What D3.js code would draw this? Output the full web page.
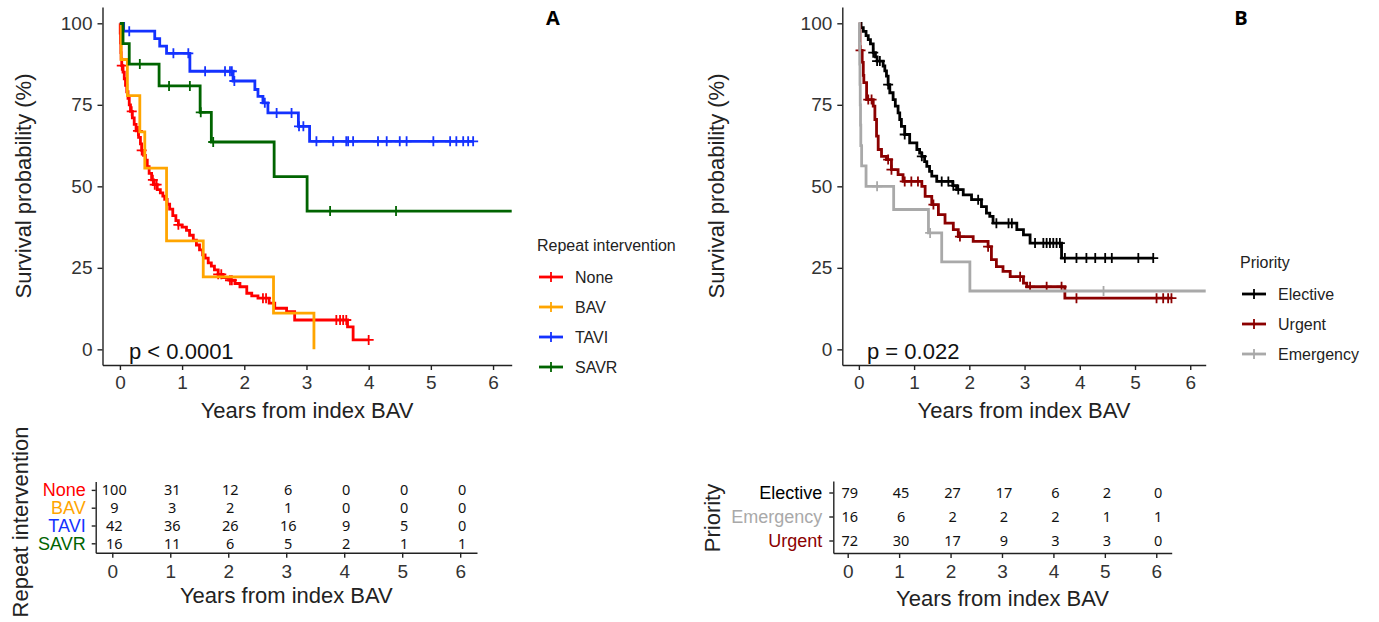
<!DOCTYPE html>
<html>
<head>
<meta charset="utf-8">
<script src="https://cdn.jsdelivr.net/npm/d3@7"></script>
<style>
  body { margin: 0; background: #fff; }
  svg { display: block; }
  text { font-family: "Liberation Sans", Arial, sans-serif; }
</style>
</head>
<body>
<div id="chart"></div>
<script>
// ---- 数据 ----
const yearTicks = [0, 1, 2, 3, 4, 5, 6];
const survTicks = [0, 25, 50, 75, 100];

// A: Repeat intervention
const groupsA = ["None", "BAV", "TAVI", "SAVR"];
const colorsA = ["#ff0000", "#ffa500", "#1432ff", "#006400"];

const noneSteps = [[0,100],[0.005,97],[0.01,94],[0.015,91],[0.02,89],[0.03,87],[0.05,85],[0.07,83],[0.09,81],
  [0.11,79],[0.13,77],[0.15,75],[0.17,73],[0.20,71],[0.23,69],[0.26,67],[0.30,65],[0.33,63],[0.35,61],
  [0.38,59.5],[0.41,58],[0.44,56],[0.47,54],[0.51,52],[0.54,50.5],[0.60,49],[0.65,48],[0.69,47],[0.72,46],
  [0.76,44.5],[0.80,43],[0.85,41],[0.90,39.5],[0.94,38.2],[1.00,37.5],[1.07,36.5],[1.12,35],[1.18,33.5],
  [1.23,32],[1.28,30.5],[1.33,29],[1.37,28],[1.42,26.5],[1.47,25.5],[1.52,24.4],[1.58,23],[1.66,22],
  [1.77,21.2],[1.85,20.2],[1.93,19.2],[2.04,17.2],[2.12,16.4],[2.22,15.7],[2.40,14.2],[2.49,12.6],
  [2.68,11.6],[2.81,9.0],[3.66,6.9],[3.75,2.9],[4.00,2.9]];
const noneCensor = [0.03, 0.19, 0.29, 0.35, 0.53, 0.56, 0.59, 0.94, 1.58, 1.63, 1.77, 1.80, 2.30, 2.35,
  3.48, 3.54, 3.59, 3.64, 4.00];

const bavSteps = [[0,100],[0.02,88.9],[0.12,77.8],[0.32,66.7],[0.40,55.6],[0.75,33.3],[1.34,22.2],
  [2.47,11.1],[3.12,0]];
const bavCensor = [];

const taviSteps = [[0,100],[0.06,97.6],[0.56,95.3],[0.64,93.0],[0.75,90.8],[1.125,85.3],[1.82,82.3],
  [2.17,79.7],[2.22,77.6],[2.30,75.6],[2.38,72.5],[2.87,68.4],[3.05,63.8],[5.68,63.8]];
const taviCensor = [0.15, 0.86, 1.10, 1.37, 1.69, 1.77, 1.80, 1.84, 2.33, 2.52, 2.76, 2.88, 2.95,
  3.16, 3.43, 3.64, 3.67, 3.75, 4.15, 4.29, 4.50, 4.61, 5.04, 5.31, 5.41, 5.52, 5.60, 5.68];

const savrSteps = [[0,100],[0.05,93.75],[0.15,87.5],[0.63,80.8],[1.29,72.7],[1.47,63.6],[2.48,53.0],
  [3.01,42.4],[6.3,42.4]];
const savrCensor = [0.32, 0.79, 1.125, 1.30, 1.50, 3.38, 4.44];

const stepsA = [noneSteps, bavSteps, taviSteps, savrSteps];
const censorA = [noneCensor, bavCensor, taviCensor, savrCensor];

const riskA = [
  [100, 31, 12, 6, 0, 0, 0],
  [9, 3, 2, 1, 0, 0, 0],
  [42, 36, 26, 16, 9, 5, 0],
  [16, 11, 6, 5, 2, 1, 1]
];

// B: Priority
const groupsB = ["Elective", "Urgent", "Emergency"];
const colorsB = ["#000000", "#8b0000", "#a9a9a9"];

const electiveSteps = [[0,100],[0.04,98.7],[0.08,97.5],[0.13,96.2],[0.17,95],[0.21,93.7],[0.26,91],
  [0.30,89.7],[0.33,88.4],[0.44,86.9],[0.47,85.4],[0.50,83.8],[0.53,81.2],[0.56,78.7],[0.62,76.6],
  [0.66,74.6],[0.71,72.5],[0.74,70.5],[0.77,68.4],[0.83,65.9],[0.92,63.3],[1.05,61.3],[1.10,60.2],
  [1.14,59.2],[1.19,57.6],[1.23,56.1],[1.28,54.6],[1.32,53.1],[1.41,51.5],[1.70,50.2],[1.77,49],
  [1.89,47.4],[2.04,45.9],[2.22,43.8],[2.31,41.8],[2.37,40.8],[2.43,38.7],[2.86,36.7],[2.98,35.1],
  [3.10,32.6],[3.67,28.0],[5.33,28.0]];
const electiveCensor = [0.26, 0.33, 0.38, 0.53, 0.83, 1.14, 1.50, 1.62, 1.71, 1.80, 2.16, 2.49, 2.71,
  2.77, 3.19, 3.34, 3.40, 3.46, 3.52, 3.58, 3.64, 3.73, 3.94, 4.12, 4.28, 4.46, 4.58, 5.06, 5.33];

const urgentSteps = [[0,100],[0.02,91.7],[0.06,88],[0.08,84],[0.09,81.8],[0.14,76.6],[0.26,74.6],
  [0.29,70.5],[0.32,65.4],[0.35,61.3],[0.41,59.2],[0.50,58.2],[0.59,55.1],[0.71,53.6],[0.80,51.5],
  [1.14,50.0],[1.20,46.9],[1.32,44.4],[1.44,41.3],[1.56,38.7],[1.71,36.7],[1.80,34.6],[2.07,33.1],
  [2.34,31.5],[2.40,27.5],[2.49,25.4],[2.61,23.9],[2.74,22.3],[2.98,20.3],[3.04,19.2],[3.73,15.7],
  [5.66,15.7]];
const urgentCensor = [0.03, 0.17, 0.23, 0.53, 0.59, 0.83, 0.95, 1.07, 1.35, 1.83, 2.34, 2.92, 3.10,
  3.40, 3.67, 3.94, 5.39, 5.51, 5.60, 5.66];

const emergencySteps = [[0,100],[0.01,93.75],[0.015,87.5],[0.02,81.25],[0.025,75],[0.03,68.75],
  [0.035,62.5],[0.05,56.25],[0.13,50],[0.63,42.9],[1.26,35.7],[1.50,26.8],[2.01,17.9],[6.28,17.9]];
const emergencyCensor = [0.33, 1.29, 4.43];

const stepsB = [electiveSteps, urgentSteps, emergencySteps];
const censorB = [electiveCensor, urgentCensor, emergencyCensor];

// 风险表（行顺序与图中一致）
const riskGroupsB = ["Elective", "Emergency", "Urgent"];
const riskColorsB = ["#000000", "#a9a9a9", "#8b0000"];
const riskB = [
  [79, 45, 27, 17, 6, 2, 0],
  [16, 6, 2, 2, 2, 1, 1],
  [72, 30, 17, 9, 3, 3, 0]
];

// ---- 画布 ----
const width = 1379, height = 622;
const svg = d3.select("#chart").append("svg")
  .attr("width", width)
  .attr("height", height);

const axisColor = "#222";
const tickText = "#333";
const intFmt = d3.format("d");

function styleAxis(sel, fontSize) {
  sel.select(".domain").attr("stroke", axisColor).attr("stroke-width", 1.4);
  sel.selectAll(".tick line").attr("stroke", axisColor).attr("stroke-width", 1.4);
  sel.selectAll(".tick text")
    .attr("fill", tickText)
    .style("font-family", '"Liberation Sans", Arial, sans-serif')
    .style("font-size", fontSize + "px");
}

const bisect = d3.bisector(d => d[0]).right;
function survAt(steps, t) {
  return steps[Math.max(0, bisect(steps, t) - 1)][1];
}

const crossPath = "M-5,0H5M0,-5V5";

// 生存曲线面板
function kmPanel(cfg) {
  const x = d3.scaleLinear().domain(cfg.xDomain).range(cfg.xRange);
  const y = d3.scaleLinear().domain([-4.8, 105]).range([365, 7]);
  const g = svg.append("g");

  g.append("g")
    .attr("transform", "translate(0,365)")
    .call(d3.axisBottom(x).tickValues(yearTicks).tickFormat(intFmt)
      .tickSize(5).tickSizeOuter(0).tickPadding(6))
    .call(s => styleAxis(s, 19));

  g.append("g")
    .attr("transform", `translate(${cfg.xRange[0]},0)`)
    .call(d3.axisLeft(y).tickValues(survTicks).tickFormat(intFmt)
      .tickSize(5).tickSizeOuter(0).tickPadding(5))
    .call(s => styleAxis(s, 19));

  const line = d3.line()
    .x(d => x(d[0]))
    .y(d => y(d[1]))
    .curve(d3.curveStepAfter);

  cfg.steps.forEach((steps, i) => {
    g.append("path")
      .datum(steps)
      .attr("fill", "none")
      .attr("stroke", cfg.colors[i])
      .attr("stroke-width", 2.8)
      .attr("d", line);

    g.append("g")
      .selectAll("path")
      .data(cfg.censor[i])
      .enter()
      .append("path")
      .attr("d", crossPath)
      .attr("transform", t => `translate(${x(t)},${y(survAt(steps, t))})`)
      .attr("stroke", cfg.colors[i])
      .attr("stroke-width", 1.8)
      .attr("fill", "none");
  });

  // p 值
  g.append("text")
    .attr("x", cfg.pX)
    .attr("y", 359)
    .style("font-size", "22px")
    .attr("fill", "#111")
    .text(cfg.pText);

  // 轴标题
  g.append("text")
    .attr("x", (cfg.xRange[0] + cfg.xRange[1]) / 2)
    .attr("y", 410)
    .attr("dy", "0.35em")
    .attr("text-anchor", "middle")
    .style("font-size", "22px")
    .attr("fill", "#222")
    .text("Years from index BAV");

  g.append("text")
    .attr("transform", `translate(${cfg.yTitleX},186) rotate(-90)`)
    .attr("dy", "0.35em")
    .attr("text-anchor", "middle")
    .style("font-size", "22px")
    .attr("fill", "#222")
    .text("Survival probability (%)");

  // 面板字母
  g.append("text")
    .attr("x", cfg.letterX)
    .attr("y", 18)
    .attr("dy", "0.35em")
    .attr("text-anchor", "middle")
    .style("font-family", '"Open Sans", sans-serif')
    .style("font-weight", "bold")
    .style("font-size", "20px")
    .attr("fill", "#000")
    .text(cfg.letter);

  // 图例
  const lg = g.append("g");
  lg.append("text")
    .attr("x", cfg.legendX - 2)
    .attr("y", cfg.legendY)
    .attr("dy", "0.35em")
    .style("font-size", "16px")
    .attr("fill", "#222")
    .text(cfg.legendTitle);

  const item = lg.selectAll("g.item")
    .data(cfg.groups)
    .enter()
    .append("g")
    .attr("class", "item")
    .attr("transform", (d, i) => `translate(${cfg.legendX},${cfg.legendY + 32 + i * 30})`);

  item.append("line")
    .attr("x1", 0).attr("x2", 24)
    .attr("stroke", (d, i) => cfg.colors[i])
    .attr("stroke-width", 2.8);
  item.append("path")
    .attr("d", crossPath)
    .attr("transform", "translate(12,0)")
    .attr("stroke", (d, i) => cfg.colors[i])
    .attr("stroke-width", 1.8);
  item.append("text")
    .attr("x", 36)
    .attr("dy", "0.35em")
    .style("font-size", "16px")
    .attr("fill", "#222")
    .text(d => d);
}

// 风险表面板
function riskTable(cfg) {
  const x = d3.scaleLinear().domain(cfg.xDomain).range(cfg.xRange);
  const y = d3.scaleBand().domain(cfg.groups).range(cfg.yRange);
  const g = svg.append("g");

  g.append("g")
    .attr("transform", `translate(0,${cfg.yRange[1]})`)
    .call(d3.axisBottom(x).tickValues(yearTicks).tickFormat(intFmt)
      .tickSize(5).tickSizeOuter(0).tickPadding(7))
    .call(s => styleAxis(s, 19));

  const ya = g.append("g")
    .attr("transform", `translate(${cfg.xRange[0]},0)`)
    .call(d3.axisLeft(y).tickSize(4).tickSizeOuter(0).tickPadding(cfg.labelPad))
    .call(s => styleAxis(s, 18));
  ya.selectAll(".tick text").attr("fill", (d, i) => cfg.colors[i]);

  cfg.groups.forEach((grp, i) => {
    g.append("g")
      .selectAll("text")
      .data(cfg.values[i])
      .enter()
      .append("text")
      .attr("x", (v, j) => x(yearTicks[j]) + 2)
      .attr("y", y(grp) + y.bandwidth() / 2)
      .attr("dy", "0.35em")
      .attr("text-anchor", "middle")
      .style("font-family", '"Noto Sans", sans-serif')
      .style("font-size", "14.5px")
      .attr("fill", "#111")
      .text(v => v);
  });

  g.append("text")
    .attr("x", (cfg.xRange[0] + cfg.xRange[1]) / 2)
    .attr("y", cfg.titleY)
    .attr("dy", "0.35em")
    .attr("text-anchor", "middle")
    .style("font-size", "22px")
    .attr("fill", "#222")
    .text("Years from index BAV");

  g.append("text")
    .attr("transform", `translate(${cfg.yTitleX},${cfg.yTitleY}) rotate(-90)`)
    .attr("dy", "0.35em")
    .attr("text-anchor", "middle")
    .style("font-size", "22px")
    .attr("fill", "#222")
    .text(cfg.yTitle);
}

kmPanel({
  xDomain: [-0.28, 6.3], xRange: [102.5, 511.7],
  steps: stepsA, censor: censorA, colors: colorsA, groups: groupsA,
  pX: 129, pText: "p < 0.0001", yTitleX: 23, letter: "A", letterX: 553,
  legendX: 539, legendY: 245, legendTitle: "Repeat intervention"
});

kmPanel({
  xDomain: [-0.3, 6.28], xRange: [842.3, 1205.7],
  steps: stepsB, censor: censorB, colors: colorsB, groups: groupsB,
  pX: 867, pText: "p = 0.022", yTitleX: 716, letter: "B", letterX: 1241,
  legendX: 1242, legendY: 262, legendTitle: "Priority"
});

riskTable({
  xDomain: [-0.286, 6.29], xRange: [95.7, 477], yRange: [481.5, 552.7],
  groups: groupsA, colors: colorsA, values: riskA, labelPad: 6,
  titleY: 595, yTitleX: 20, yTitleY: 522, yTitle: "Repeat intervention"
});

riskTable({
  xDomain: [-0.28, 6.3], xRange: [833.3, 1171.7], yRange: [481, 553],
  groups: riskGroupsB, colors: riskColorsB, values: riskB, labelPad: 7,
  titleY: 598, yTitleX: 712, yTitleY: 518, yTitle: "Priority"
});
</script>
</body>
</html>
